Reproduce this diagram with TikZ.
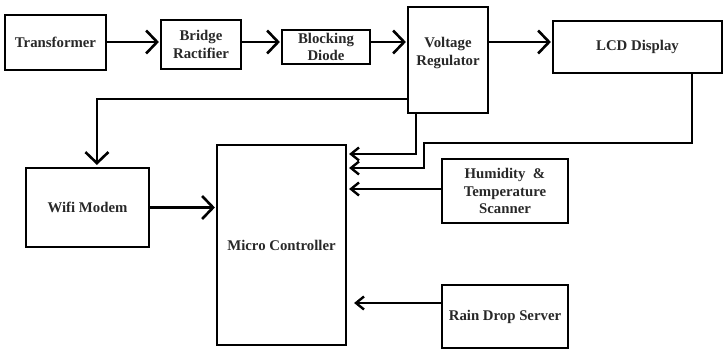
\documentclass[tikz,border=0pt]{standalone}
\usepackage{fontspec}
\setmainfont{Liberation Serif}
\usetikzlibrary{arrows.meta}
\definecolor{txt}{RGB}{40,40,40}
\tikzset{
  blk/.style={draw=black, line width=2.2pt, rectangle, inner sep=0pt, align=center,
    font=\fontsize{14.8}{17.5}\selectfont\bfseries, text=txt},
  lbl/.style={inner sep=0pt, align=center, font=\fontsize{14.8}{17.5}\selectfont\bfseries, text=txt},
  arr/.style={draw=black, line width=2.2pt, -{Straight Barb[length=11pt,width=23pt,line width=2.6pt]}},
  sarr/.style={draw=black, line width=2.2pt, -{Straight Barb[length=8pt,width=13pt,line width=2.4pt]}}
}
\begin{document}
\begin{tikzpicture}[x=1pt,y=-1pt]
\useasboundingbox (0,0) rectangle (727,350);
\node[blk, minimum width=101pt, minimum height=55pt] (tr) at (55.5,42.5) {Transformer};
\node[blk, minimum width=80pt, minimum height=49pt] (br) at (201,44.5) {Bridge\\Ractifier};
\node[blk, minimum width=88pt, minimum height=34pt] (bd) at (326,47) {Blocking\\Diode};
\node[blk, minimum width=80pt, minimum height=106pt] (vr) at (448,60) {};
\node[lbl] (vrlabel) at (448,53) {Voltage\\Regulator};
\node[blk, minimum width=169pt, minimum height=52pt] (lcd) at (637.5,47) {LCD Display};
\node[blk, minimum width=123pt, minimum height=79pt] (wifi) at (87.5,207.5) {Wifi Modem};
\node[blk, minimum width=129pt, minimum height=200pt] (mc) at (281.5,245) {Micro Controller};
\node[blk, minimum width=126pt, minimum height=64pt] (hum) at (505,191) {Humidity\ \ \&\\Temperature\\Scanner};
\node[blk, minimum width=126pt, minimum height=63pt] (rain) at (505,316.5) {Rain Drop Server};
\coordinate (row) at (0,42);
\draw[arr] (tr.east |- row) -- ([xshift=-1pt]br.west |- row);
\draw[arr] (br.east |- row) -- ([xshift=-1pt]bd.west |- row);
\draw[arr] (bd.east |- row) -- ([xshift=-1pt]vr.west |- row);
\draw[arr] (vr.east |- row) -- ([xshift=-1pt]lcd.west |- row);
\draw[arr] (vr.west |- 0,99) -| ([xshift=72pt,yshift=2pt]wifi.north west);
\draw[arr] (wifi.east) -- ([xshift=-1pt]wifi.east -| mc.west);
\draw[sarr] ([xshift=9pt]vr.south west) |- ([xshift=2pt]mc.east |- 0,154);
\draw[sarr] ([xshift=140pt]lcd.south west) |- (424,143) |- ([xshift=2pt]mc.east |- 0,168);
\draw[sarr] (hum.west |- 0,189) -- ([xshift=2pt]mc.east |- 0,189);
\draw[sarr] (rain.west |- 0,303) -- ([xshift=7pt]mc.east |- 0,303);
\end{tikzpicture}
\end{document}
